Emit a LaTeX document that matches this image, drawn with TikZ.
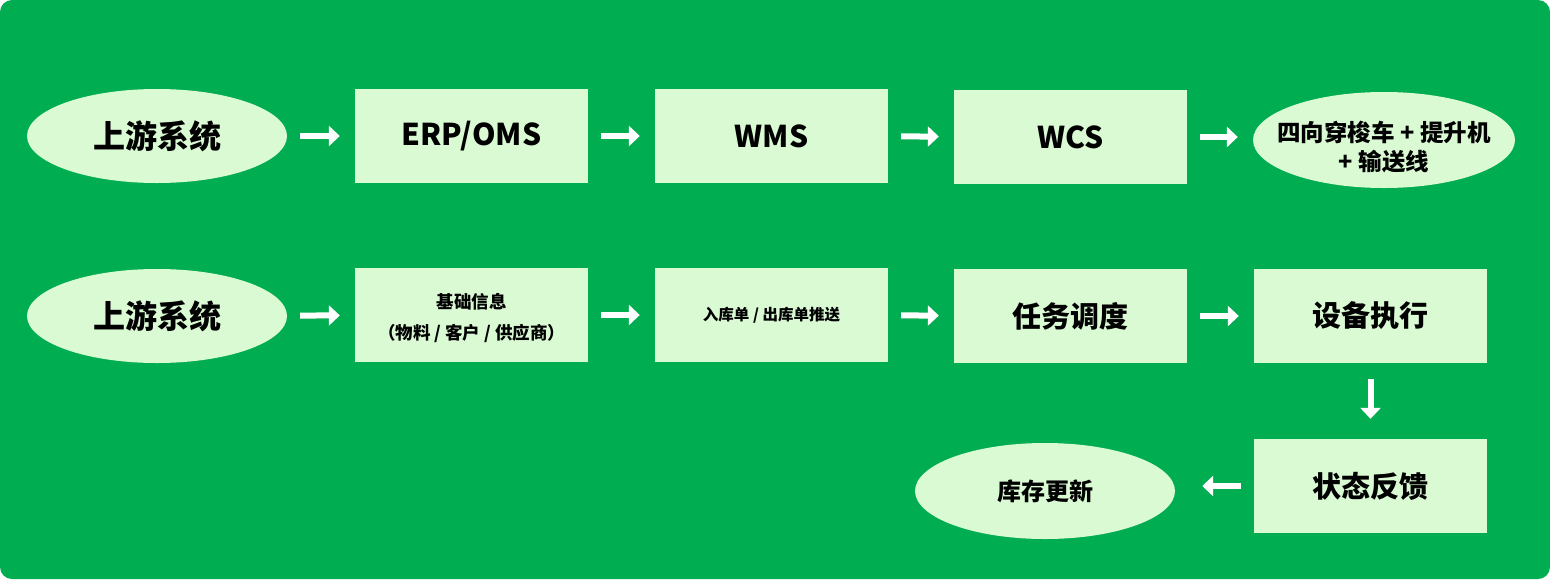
\documentclass[tikz,border=0pt]{standalone}
\usepackage{fontspec}
\setmainfont{Noto Sans CJK SC}
\usetikzlibrary{shapes.geometric,arrows.meta}

\definecolor{bggreen}{RGB}{0,173,80}
\definecolor{boxgreen}{RGB}{218,250,212}
\newcommand{\fsz}[1]{\bfseries\fontsize{#1}{1.25\dimexpr#1\relax}\selectfont}

\tikzset{
  box/.style={fill=boxgreen, minimum width=233pt, minimum height=94pt, inner sep=0pt, align=center},
  oval/.style={ellipse, fill=boxgreen, minimum width=260pt, minimum height=94pt, inner sep=0pt, align=center},
  flow/.style={-{Triangle[length=11pt,width=20pt]}, white, line width=6pt, shorten <=13pt, shorten >=15pt},
}

\begin{document}
\begin{tikzpicture}[x=1pt,y=-1pt]
\fill[white] (0,0) rectangle (1550,579);
\fill[bggreen, rounded corners=12pt] (0,0) rectangle (1550,579);

% upper row
\node[oval, font=\fsz{32pt}] (src1) at (157,136) {上游系统};
\node[box, font=\fsz{30pt}] (erp) at (471.5,136) {ERP/OMS};
\node[box, font=\fsz{30pt}] (wms) at (771.5,136) {WMS};
\node[box, font=\fsz{30pt}] (wcs) at (1070.5,137) {WCS};
\node[oval, minimum width=262pt, minimum height=96pt] (dev) at (1384,140) {};
\node[align=center, font=\fsz{23.5pt}] (devtext) at ([yshift=-7pt]dev.center) {四向穿梭车 + 提升机\\+ 输送线};

\draw[flow] (src1) -- (erp);
\draw[flow] (erp) -- (wms);
\draw[flow] (wms) -- (wcs);
\draw[flow] (wcs.east) -- (wcs.east -| dev.west);

% lower row
\node[oval, font=\fsz{32pt}] (src2) at (157,316) {上游系统};
\node[box, font=\fsz{17.5pt}] (base) at (471.5,315) {};
\node[font=\fsz{17.5pt}, align=center] (basetext) at ([yshift=-3pt]base.center) {基础信息\\[9pt]（物料 / 客户 / 供应商）};
\node[box, font=\fsz{15.5pt}] (order) at (771.5,315) {入库单 / 出库单推送};
\node[box, font=\fsz{29pt}] (task) at (1070.5,316) {任务调度};
\node[box, font=\fsz{29pt}] (exec) at (1370.5,316) {设备执行};
\node[box, font=\fsz{29pt}] (state) at (1370.5,486) {状态反馈};
\node[oval, minimum height=96pt, font=\fsz{24pt}] (stock) at (1045,491) {库存更新};

\draw[flow] (src2) -- (base);
\draw[flow] (base) -- (order);
\draw[flow] (order) -- (task);
\draw[flow] (task) -- (exec);
\draw[flow, shorten <=16pt, shorten >=20pt] (exec) -- (state);
\draw[flow, shorten >=27pt] (state.west) -- (state.west -| stock.east);
\end{tikzpicture}
\end{document}
